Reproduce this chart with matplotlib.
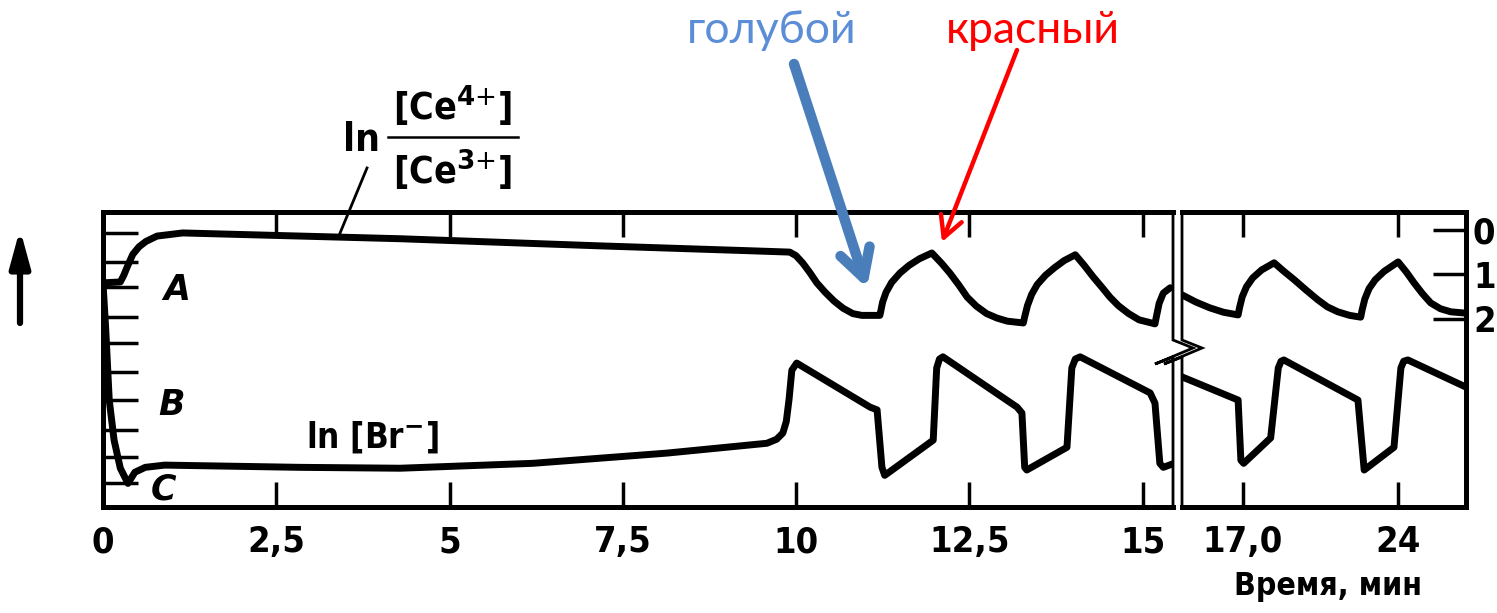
import numpy as np
import matplotlib
matplotlib.use("Agg")
import matplotlib.pyplot as plt
from matplotlib import font_manager
from matplotlib.lines import Line2D
from matplotlib.patches import FancyArrowPatch

# ---- data (time in min, value in ln units, 0 at the top) ----
# left panel, 0 .. 15.4 min
ce_t1 = [0, 0.25, 0.30, 0.35, 0.43, 0.52, 0.62, 0.78, 1.15, 4.29, 7.17, 9.34, 9.91,
         10.00, 10.10, 10.20, 10.30, 10.42, 10.55, 10.68, 10.82, 10.95, 11.21,
         11.22, 11.25, 11.30, 11.38, 11.50, 11.63, 11.78, 11.96,
         12.10, 12.22, 12.35, 12.47, 12.60, 12.75, 12.90, 13.05, 13.28,
         13.30, 13.34, 13.40, 13.48, 13.60, 13.73, 13.87, 14.03,
         14.16, 14.29, 14.42, 14.53, 14.65, 14.80, 14.95, 15.18,
         15.20, 15.24, 15.30, 15.40]
ce_v1 = [1.19, 1.17, 1.02, 0.83, 0.55, 0.38, 0.26, 0.14, 0.07, 0.20, 0.36, 0.47, 0.50,
         0.58, 0.75, 0.96, 1.19, 1.40, 1.60, 1.76, 1.88, 1.92, 1.92,
         1.85, 1.62, 1.40, 1.18, 0.97, 0.80, 0.65, 0.52,
         0.75, 0.97, 1.24, 1.51, 1.71, 1.88, 1.98, 2.05, 2.09,
         1.95, 1.70, 1.45, 1.23, 1.02, 0.85, 0.69, 0.56,
         0.80, 1.06, 1.30, 1.51, 1.70, 1.88, 2.02, 2.11,
         1.95, 1.65, 1.42, 1.30]

br_t1 = [0, 0.04, 0.09, 0.16, 0.25, 0.36, 0.46, 0.61, 0.89, 2.84, 4.29, 6.20, 8.14, 9.58,
         9.72, 9.81, 9.86, 9.90, 9.94, 10.01, 11.07, 11.17, 11.24, 11.28, 11.98, 12.03, 12.07,
         12.12, 13.19, 13.26, 13.30, 13.33, 13.91, 13.98, 14.03, 14.10, 15.11, 15.18, 15.25,
         15.30, 15.44]
br_v1 = [1.19, 2.25, 3.82, 4.72, 5.35, 5.69, 5.44, 5.33, 5.28, 5.33, 5.35, 5.24, 5.01, 4.79,
         4.70, 4.56, 4.30, 3.80, 3.15, 2.99, 3.98, 4.04, 5.33, 5.51, 4.72, 3.10, 2.90,
         2.85, 3.98, 4.11, 5.33, 5.39, 4.88, 3.10, 2.90, 2.85, 3.66, 3.89, 5.24,
         5.33, 5.25]

# right panel (after the break), local time axis
ce_t2 = [0, 0.2, 0.4, 0.6, 0.81, 0.83, 0.87, 0.93, 1.02, 1.15, 1.33,
         1.47, 1.62, 1.79, 1.96, 2.10, 2.25, 2.42, 2.58,
         2.60, 2.64, 2.70, 2.79, 2.92, 3.12,
         3.24, 3.35, 3.47, 3.59, 3.73, 3.88, 4.10]
ce_v2 = [1.46, 1.62, 1.75, 1.85, 1.91, 1.75, 1.50, 1.28, 1.08, 0.90, 0.74,
         0.93, 1.12, 1.35, 1.57, 1.73, 1.84, 1.92, 1.96,
         1.80, 1.55, 1.32, 1.12, 0.93, 0.72,
         0.95, 1.19, 1.43, 1.64, 1.77, 1.84, 1.87]

br_t2 = [0, 0.81, 0.85, 0.89, 1.28, 1.39, 1.43, 1.47, 2.54, 2.63, 3.06, 3.16, 3.20, 3.26, 4.10]
br_v2 = [3.30, 3.82, 5.17, 5.24, 4.67, 3.10, 2.95, 2.92, 3.82, 5.39, 4.88, 3.10, 2.95, 2.92, 3.53]

x_ticks1 = [0, 2.5, 5, 7.5, 10, 12.5, 15]
x_labels1 = ["0", "2,5", "5", "7,5", "10", "12,5", "15"]
x_ticks2 = [0.88, 3.12]
x_labels2 = ["17,0", "24"]
left_ticks = [0.07, 0.72, 1.28, 1.96, 2.54, 3.19, 3.82, 4.49, 5.10, 5.69]
right_ticks = [0, 1, 2]
right_labels = ["0", "1", "2"]

# ---- fonts: a narrow bold face looks closest to the scan ----
entries = font_manager.fontManager.ttflist
names = {f.name for f in entries}
if any(f.name == "DejaVu Sans" and "condensed" in str(f.stretch) for f in entries):
    SCAN = dict(family="DejaVu Sans", fontstretch="condensed", fontweight="bold")
elif "Liberation Sans Narrow" in names:
    SCAN = dict(family="Liberation Sans Narrow", fontweight="bold")
else:
    SCAN = dict(family="DejaVu Sans", fontweight="bold")
ITAL = {k: v for k, v in SCAN.items() if k != "fontstretch"}
NOTE_FONT = ["Lato", "DejaVu Sans"]
plt.rcParams["mathtext.fontset"] = "dejavusans"

W, H = 1497, 613
fig = plt.figure(figsize=(W / 100, H / 100), dpi=100)


def fx(x):
    return x / W


def fy(y):
    return 1 - y / H


ax1 = fig.add_axes([fx(103), fy(507), fx(1173) - fx(103), fy(212) - fy(507)])
ax2 = fig.add_axes([fx(1182), fy(507), fx(1466) - fx(1182), fy(212) - fy(507)])

style = dict(color="black", lw=5.0, solid_joinstyle="round", solid_capstyle="round")
ax1.plot(ce_t1, ce_v1, **style)
ax1.plot(br_t1, br_v1, **style)
ax2.plot(ce_t2, ce_v2, **style)
ax2.plot(br_t2, br_v2, **style)

ax1.set_xlim(0, 15.44)
ax2.set_xlim(0, 4.10)
for ax in (ax1, ax2):
    ax.set_ylim(6.22, -0.40)
    for s in ax.spines.values():
        s.set_linewidth(3.6)

# spines at the break are drawn by hand, with the zigzag
ax1.spines["right"].set_visible(False)
ax2.spines["left"].set_visible(False)

# x ticks, inward, top and bottom
ax1.set_xticks(x_ticks1)
ax1.set_xticklabels(x_labels1)
ax2.set_xticks(x_ticks2)
ax2.set_xticklabels(x_labels2)
for ax in (ax1, ax2):
    ax.tick_params(axis="x", direction="in", top=True, bottom=True, length=18, width=2.5,
                   pad=13, labelsize=26)
    for lab in ax.get_xticklabels():
        lab.set(**SCAN)

# y ticks: long marks on the left, 0/1/2 scale on the right
ax1.set_yticks(left_ticks)
ax1.tick_params(axis="y", direction="in", left=True, right=False, labelleft=False,
                length=25, width=2.5)
ax2.set_yticks(right_ticks)
ax2.set_yticklabels(right_labels)
ax2.tick_params(axis="y", direction="in", left=False, right=True, labelleft=False,
                labelright=True, length=24, width=2.5, pad=5, labelsize=26)
for lab in ax2.get_yticklabels():
    lab.set(**SCAN)

# break mark: two thin spines bent into a zigzag
for sx in (1173, 1182):
    xs = [sx, sx, sx + 20, sx - 18, sx, sx]
    ys = [212, 340, 348, 364, 357, 507]
    fig.add_artist(Line2D([fx(v) for v in xs], [fy(v) for v in ys], color="black", lw=2.0,
                          transform=fig.transFigure, solid_joinstyle="miter"))

# curve labels
fig.text(fx(177), fy(290), "A", ha="center", va="center", fontsize=25, style="italic", **ITAL)
fig.text(fx(172), fy(405), "B", ha="center", va="center", fontsize=25, style="italic", **ITAL)
fig.text(fx(163), fy(490), "C", ha="center", va="center", fontsize=25, style="italic", **ITAL)
fig.text(fx(372), fy(437), "ln [Br$^{\\mathbf{-}}$]", ha="center", va="center", fontsize=25, **SCAN)

# ln [Ce4+]/[Ce3+]
fig.text(fx(361), fy(140), "ln", ha="center", va="center", fontsize=28, **SCAN)
fig.text(fx(453), fy(106), "[Ce$^{\\mathbf{4}{+}}$]", ha="center", va="center", fontsize=27, **SCAN)
fig.text(fx(453), fy(170), "[Ce$^{\\mathbf{3}{+}}$]", ha="center", va="center", fontsize=27, **SCAN)
fig.add_artist(Line2D([fx(388), fx(518)], [fy(137), fy(137)], color="black", lw=1.8,
                      transform=fig.transFigure))
fig.add_artist(Line2D([fx(367), fx(338)], [fy(168), fy(238)], color="black", lw=2.0,
                      transform=fig.transFigure))

# axis caption
fig.text(fx(1328), fy(586), "Время, мин", ha="center", va="center", fontsize=23, **SCAN)

# vertical arrow on the left
fig.add_artist(FancyArrowPatch((fx(20), fy(323)), (fx(20), fy(229)), transform=fig.transFigure,
                               arrowstyle="-|>,head_length=22,head_width=6", mutation_scale=1,
                               color="black", lw=4.5, shrinkA=0, shrinkB=0))

# coloured notes
fig.text(fx(772), fy(43), "голубой", ha="center", va="baseline", fontsize=32,
         color="#5b8ed6", family=NOTE_FONT)
fig.text(fx(1033), fy(43), "красный", ha="center", va="baseline", fontsize=32,
         color="#ff0000", family=NOTE_FONT)
fig.add_artist(FancyArrowPatch((fx(794), fy(64)), (fx(867), fy(288)), transform=fig.transFigure,
                               arrowstyle="->,head_length=20,head_width=11", mutation_scale=1,
                               color="#4a7ebb", lw=7.5, shrinkA=0, shrinkB=0,
                               joinstyle="round", capstyle="round"))
fig.add_artist(FancyArrowPatch((fx(1017), fy(50)), (fx(942), fy(242)), transform=fig.transFigure,
                               arrowstyle="->,head_length=15,head_width=8", mutation_scale=1,
                               color="#ff0000", lw=3.2, shrinkA=0, shrinkB=0))

fig.savefig("out.png", dpi=100)
